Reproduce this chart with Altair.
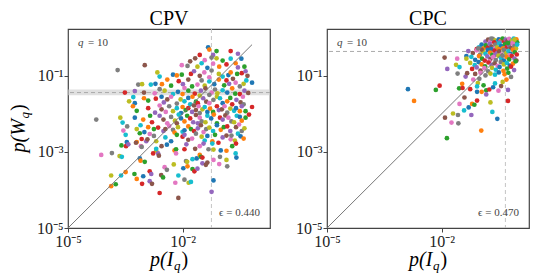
import altair as alt
import pandas as pd

TAB10 = ["#1f77b4", "#ff7f0e", "#2ca02c", "#d62728", "#9467bd",
         "#8c564b", "#e377c2", "#7f7f7f", "#bcbd22", "#17becf"]

# (log10 p(I_q), log10 p(W_q))
CPV_POINTS = [
    (-1.33, -0.25), (-1.30, -0.31), (-1.11, -0.35), (-0.74, -0.35), (-1.20, -0.45), (-1.67, -0.54), (-1.42, -0.59),
    (-1.24, -0.52), (-1.11, -0.54), (-0.74, -0.55), (-0.46, -0.55), (-0.61, -0.67), (-0.95, -0.60), (-1.55, -0.45),
    (-0.55, -0.42),
    (-2.99, -0.72), (-2.02, -0.72), (-1.87, -0.74), (-1.61, -0.76), (-1.50, -0.67), (-1.35, -0.79), (-1.04, -0.76),
    (-0.38, -0.76), (-0.85, -0.70), (-0.55, -0.78), (-1.80, -0.62), (-1.20, -0.68),
    (-3.70, -0.85), (-2.66, -0.91), (-2.60, -1.02), (-2.25, -0.97), (-2.15, -0.99), (-2.02, -0.97), (-1.78, -0.95),
    (-1.70, -0.88), (-1.55, -1.00), (-1.43, -0.91), (-1.24, -0.86), (-1.05, -0.95), (-0.95, -1.02), (-0.80, -0.98),
    (-0.74, -0.91), (-0.57, -0.95), (-0.45, -0.93), (-0.35, -0.88), (-0.30, -1.00), (-1.30, -1.04),
    (-3.16, -1.23), (-3.06, -1.22), (-2.83, -1.23), (-2.71, -1.21), (-2.54, -1.22), (-2.30, -1.26), (-2.10, -1.14),
    (-1.99, -1.22), (-1.85, -1.10), (-1.61, -1.23), (-1.50, -1.12), (-1.42, -1.26), (-1.30, -1.15), (-1.17, -1.22),
    (-1.05, -1.10), (-0.91, -1.25), (-0.85, -1.12), (-0.78, -1.21), (-0.68, -1.08), (-0.61, -1.18), (-0.50, -1.28),
    (-0.40, -1.21), (-0.33, -1.12), (-0.18, -1.18), (-2.40, -1.10), (-1.75, -1.28),
    (-3.51, -1.44), (-3.25, -1.40), (-3.01, -1.44), (-2.73, -1.46), (-2.60, -1.35), (-2.47, -1.39), (-2.25, -1.48),
    (-2.12, -1.42), (-2.00, -1.48), (-1.85, -1.39), (-1.68, -1.47), (-1.52, -1.39), (-1.40, -1.33), (-1.24, -1.44),
    (-1.15, -1.36), (-1.09, -1.46), (-0.95, -1.38), (-0.83, -1.44), (-0.70, -1.33), (-0.62, -1.47), (-0.50, -1.48),
    (-0.38, -1.39), (-0.28, -1.45), (-1.95, -1.32), (-1.30, -1.50),
    (-3.40, -1.67), (-3.29, -1.56), (-3.25, -1.72), (-3.01, -1.59), (-2.90, -1.65), (-2.70, -1.60), (-2.49, -1.70),
    (-2.40, -1.62), (-2.30, -1.55), (-2.15, -1.73), (-2.05, -1.62), (-1.95, -1.67), (-1.85, -1.58), (-1.74, -1.55),
    (-1.65, -1.68), (-1.60, -1.72), (-1.46, -1.59), (-1.38, -1.68), (-1.30, -1.72), (-1.19, -1.63), (-1.10, -1.55),
    (-1.02, -1.59), (-0.95, -1.72), (-0.83, -1.67), (-0.75, -1.58), (-0.70, -1.75), (-0.59, -1.63), (-0.48, -1.70),
    (-0.42, -1.55), (-0.40, -1.75), (-1.55, -1.52), (-1.80, -1.75), (-2.55, -1.55),
    (-3.30, -1.80), (-3.20, -1.92), (-2.90, -1.85), (-2.72, -1.97), (-2.55, -1.88), (-2.44, -1.95), (-2.35, -1.80),
    (-2.25, -1.93), (-2.15, -1.85), (-2.04, -1.98), (-2.00, -1.82), (-1.92, -1.90), (-1.85, -1.85), (-1.75, -1.95),
    (-1.65, -1.90), (-1.58, -1.80), (-1.55, -1.98), (-1.48, -1.88), (-1.42, -1.82), (-1.35, -1.95), (-1.28, -1.86),
    (-1.20, -1.95), (-1.10, -1.80), (-1.05, -1.90), (-0.97, -1.88), (-0.90, -1.80), (-0.83, -1.97), (-0.75, -1.86),
    (-0.65, -1.92), (-0.60, -1.85), (-0.50, -1.93), (-0.35, -1.93), (-0.18, -1.82), (-0.45, -1.80), (-1.70, -1.78),
    (-2.60, -1.78),
    (-4.26, -2.15), (-3.63, -2.10), (-3.57, -2.23), (-3.25, -2.10), (-3.03, -2.15), (-2.85, -2.05), (-2.80, -2.22),
    (-2.60, -2.05), (-2.50, -2.15), (-2.40, -2.25), (-2.30, -2.08), (-2.20, -2.18), (-2.10, -2.02), (-2.04, -2.12),
    (-1.95, -2.20), (-1.88, -2.05), (-1.80, -2.12), (-1.72, -2.22), (-1.65, -2.03), (-1.55, -2.10), (-1.50, -2.20),
    (-1.40, -2.22), (-1.35, -2.05), (-1.25, -2.12), (-1.18, -2.02), (-1.10, -2.25), (-1.02, -2.10), (-0.95, -2.15),
    (-0.88, -2.04), (-0.80, -2.10), (-0.72, -2.20), (-0.65, -2.22), (-0.58, -2.05), (-0.50, -2.08), (-0.45, -2.18),
    (-0.35, -2.10), (-0.26, -2.02), (-1.60, -2.25), (-2.15, -2.25),
    (-3.55, -2.44), (-3.45, -2.33), (-3.20, -2.40), (-3.10, -2.30), (-3.00, -2.48), (-2.90, -2.35), (-2.75, -2.40),
    (-2.64, -2.36), (-2.50, -2.45), (-2.45, -2.40), (-2.35, -2.32), (-2.25, -2.42), (-2.12, -2.35), (-2.00, -2.47),
    (-1.95, -2.43), (-1.85, -2.33), (-1.78, -2.40), (-1.70, -2.45), (-1.60, -2.38), (-1.52, -2.30), (-1.45, -2.48),
    (-1.38, -2.40), (-1.30, -2.36), (-1.20, -2.45), (-1.10, -2.30), (-1.00, -2.42), (-0.92, -2.35), (-0.83, -2.33),
    (-0.75, -2.45), (-0.60, -2.35), (-0.52, -2.28), (-0.45, -2.45), (-0.38, -2.38),
    (-3.49, -2.55), (-3.46, -2.74), (-3.20, -2.74), (-3.12, -2.51), (-3.07, -2.66), (-2.95, -2.72), (-2.92, -2.67),
    (-2.86, -2.53), (-2.75, -2.58), (-2.69, -2.72), (-2.45, -2.62), (-2.30, -2.72), (-2.21, -2.49), (-2.15, -2.55),
    (-2.00, -2.60), (-1.95, -2.55), (-1.85, -2.68), (-1.75, -2.65), (-1.65, -2.52), (-1.50, -2.60), (-1.42, -2.70),
    (-1.35, -2.58), (-1.22, -2.72), (-1.15, -2.55), (-1.06, -2.76), (-0.95, -2.62), (-0.85, -2.57), (-0.74, -2.67),
    (-0.72, -2.57), (-0.63, -2.70), (-0.55, -2.52), (-0.48, -2.59), (-0.40, -2.65),
    (-3.60, -2.83), (-3.48, -2.85), (-3.42, -2.80), (-3.22, -2.76), (-3.09, -2.85), (-3.07, -2.87), (-2.69, -2.97),
    (-2.69, -2.92), (-2.41, -2.81), (-2.21, -2.96), (-2.17, -2.93), (-1.95, -2.93), (-1.90, -2.80), (-1.67, -2.92),
    (-1.55, -2.85), (-1.32, -2.93), (-1.19, -2.94), (-1.22, -2.78), (-1.00, -2.96), (-0.85, -2.97), (-0.70, -2.85),
    (-0.60, -2.78), (-1.45, -2.78), (-2.55, -2.85),
    (-4.13, -3.08), (-3.85, -3.03), (-3.65, -3.11), (-3.59, -3.13), (-3.12, -3.17), (-3.10, -3.23), (-2.99, -3.26),
    (-2.77, -3.04), (-2.64, -3.04), (-2.62, -3.10), (-2.17, -3.04), (-1.91, -3.24), (-1.88, -3.26), (-1.74, -3.19),
    (-1.63, -3.17), (-1.55, -3.08), (-1.52, -3.13), (-1.48, -3.15), (-1.48, -3.30), (-1.35, -3.28), (-1.19, -3.21),
    (-1.02, -3.13), (-0.85, -3.21), (-0.61, -3.04), (-0.59, -3.15),
    (-3.49, -3.53), (-3.26, -3.58), (-2.86, -3.51), (-2.82, -3.58), (-2.56, -3.61), (-2.47, -3.40), (-2.41, -3.47),
    (-2.23, -3.33), (-2.11, -3.62), (-1.98, -3.43), (-1.87, -3.38), (-1.74, -3.45), (-1.69, -3.51), (-1.61, -3.44),
    (-1.39, -3.34), (-1.04, -3.32), (-0.83, -3.38),
    (-3.87, -3.62), (-3.61, -3.62), (-3.03, -3.64), (-3.20, -3.71), (-2.51, -3.67), (-3.06, -3.84), (-2.86, -3.77),
    (-2.80, -3.84), (-2.19, -3.81), (-1.95, -3.73), (-1.84, -3.81), (-1.78, -3.79), (-1.19, -3.75), (-3.87, -3.90),
    (-3.75, -3.85), (-2.60, -4.08), (-1.24, -4.05), (-2.11, -4.21),
]

CPC_POINTS = [
    (-2.88, -1.35), (-2.72, -1.66), (-2.15, -1.37), (-2.05, -1.26), (-1.85, -0.82), (-1.92, -0.52), (-1.59, -0.55),
    (-1.58, -0.94), (-1.62, -0.71), (-1.53, -0.77), (-1.35, -0.48), (-1.46, -1.21), (-1.54, -1.33), (-1.45, -1.32),
    (-1.37, -1.02), (-1.33, -0.93), (-1.17, -1.10), (-1.01, -1.08), (-1.05, -1.19), (-1.07, -1.28), (-1.07, -1.42),
    (-0.95, -1.42), (-0.83, -1.38), (-0.75, -1.36), (-0.83, -1.49), (-1.40, -1.57), (-1.53, -1.74), (-1.57, -2.03),
    (-1.70, -1.99), (-1.41, -1.91), (-1.29, -1.83), (-1.20, -1.74), (-1.14, -1.76), (-1.07, -1.65), (-1.22, -2.03),
    (-1.91, -2.10), (-1.74, -2.23), (-1.56, -2.25), (-0.72, -1.70), (-0.67, -1.95), (-0.54, -2.13), (-0.96, -2.44),
    (-1.86, -2.64), (-0.26, -1.66), (-0.26, -1.37), (-0.44, -1.27), (-0.51, -1.39), (-0.18, -1.03), (-0.40, -1.16),
    (-0.60, -1.20), (-0.65, -1.30), (-0.30, -1.10), (-0.90, -1.25), (-1.25, -1.35),
    (-0.85, -0.10), (-0.78, -0.05), (-0.72, -0.09), (-0.66, -0.03), (-0.60, -0.07), (-0.55, -0.11), (-0.50, -0.04),
    (-0.45, -0.08), (-0.40, -0.02), (-0.36, -0.10), (-0.32, -0.05), (-0.27, -0.08), (-0.23, -0.03), (-0.19, -0.11),
    (-0.15, -0.06), (-0.11, -0.02), (-0.07, -0.09), (-0.04, -0.04), (-0.02, -0.12), (-0.62, -0.12), (-0.48, -0.12),
    (-0.30, -0.13), (-0.13, -0.13), (-0.70, -0.02), (-0.09, -0.05),
    (-1.02, -0.25), (-0.95, -0.18), (-0.90, -0.28), (-0.84, -0.20), (-0.79, -0.26), (-0.74, -0.16), (-0.69, -0.23),
    (-0.64, -0.29), (-0.59, -0.18), (-0.54, -0.25), (-0.49, -0.15), (-0.44, -0.22), (-0.39, -0.28), (-0.34, -0.17),
    (-0.29, -0.24), (-0.24, -0.19), (-0.19, -0.27), (-0.14, -0.16), (-0.09, -0.22), (-0.05, -0.28), (-0.02, -0.18),
    (-0.70, -0.30), (-0.50, -0.30), (-0.26, -0.14), (-1.08, -0.30),
    (-1.30, -0.35), (-1.18, -0.40), (-1.08, -0.33), (-0.99, -0.44), (-0.92, -0.36), (-0.85, -0.42), (-0.79, -0.32),
    (-0.73, -0.39), (-0.67, -0.45), (-0.61, -0.34), (-0.55, -0.41), (-0.49, -0.36), (-0.43, -0.44), (-0.37, -0.32),
    (-0.31, -0.40), (-0.25, -0.35), (-0.19, -0.43), (-0.13, -0.31), (-0.08, -0.38), (-0.03, -0.44), (-0.60, -0.45),
    (-0.95, -0.31), (-0.22, -0.46), (-1.04, -0.28),
    (-1.35, -0.55), (-1.22, -0.50), (-1.12, -0.58), (-1.02, -0.48), (-0.94, -0.55), (-0.87, -0.60), (-0.80, -0.49),
    (-0.72, -0.56), (-0.65, -0.51), (-0.58, -0.59), (-0.51, -0.47), (-0.44, -0.54), (-0.37, -0.60), (-0.30, -0.50),
    (-0.23, -0.57), (-0.16, -0.48), (-0.09, -0.55), (-0.04, -0.60), (-0.75, -0.62), (-0.40, -0.47),
    (-1.25, -0.66), (-1.13, -0.72), (-1.03, -0.64), (-0.95, -0.70), (-0.86, -0.75), (-0.77, -0.65), (-0.69, -0.71),
    (-0.61, -0.67), (-0.53, -0.74), (-0.45, -0.64), (-0.37, -0.70), (-0.29, -0.66), (-0.21, -0.73), (-0.13, -0.68),
    (-0.06, -0.62),
    (-1.20, -0.82), (-1.08, -0.78), (-0.98, -0.86), (-0.88, -0.80), (-0.78, -0.88), (-0.68, -0.79), (-0.58, -0.84),
    (-0.48, -0.77), (-0.38, -0.87), (-0.28, -0.81), (-0.18, -0.76), (-0.10, -0.85),
    (-1.12, -0.95), (-0.98, -0.92), (-0.85, -0.99), (-0.72, -0.94), (-0.60, -0.97), (-0.50, -0.91), (-0.35, -0.96),
    (-0.25, -0.92),
]

PANELS = ["CPV", "CPC"]
EPS_LABELS = ["ϵ = 0.440", "ϵ = 0.470"]
EPS_LINE_X = [0.057, 0.47]       # vertical dashed line positions
MEAN_LINE_Y = [0.0363, 0.437]    # horizontal dashed line positions
BAND_LEFT = [0.031, 0.0437]      # grey band around the CPV horizontal line
Q_LABEL = "= 10"
X_TICKS = [1e-5, 1e-2]
Y_TICKS = [1e-5, 1e-3, 1e-1]
X_MAX, Y_MAX = 1.95, 1.7
DIAG = [1e-5, 0.66]

W, H = 202, 199
SERIF = "Liberation Serif"
LABEL_EXPR = "'10⁻' + ['⁰','¹','²','³','⁴','⁵'][-round(log(datum.value)/LN10)]"

xs = alt.Scale(type="log", domain=[1e-5, X_MAX], nice=False)
ys = alt.Scale(type="log", domain=[1e-5, Y_MAX], nice=False)
axis_common = dict(title=None, grid=False, domain=False, tickSize=4, tickColor="#444", tickWidth=1,
                   labelFont=SERIF, labelFontSize=16, labelColor="#222", labelPadding=1, labelFlush=False)
xax = alt.Axis(values=X_TICKS, labelExpr=LABEL_EXPR, **axis_common)
yax = alt.Axis(values=Y_TICKS, labelExpr=LABEL_EXPR, **axis_common)


def X(f):
    return alt.X(f, type="quantitative", scale=xs, axis=xax)


def Y(f):
    return alt.Y(f, type="quantitative", scale=ys, axis=yax)


ONE = pd.DataFrame({"a": [0]})


def txt(s, x, y, size, italic=False, angle=0, align="left", color="black"):
    kw = dict(text=s, font=SERIF, fontSize=size, fontStyle="italic" if italic else "normal",
              align=align, baseline="alphabetic", color=color)
    if angle:
        kw["angle"] = angle
    return alt.Chart(ONE).mark_text(**kw).encode(x=alt.value(x), y=alt.value(y))


def panel(i, pts_list, ylabel):
    df = pd.DataFrame({
        "x": [10 ** p[0] for p in pts_list],
        "y": [10 ** p[1] for p in pts_list],
        "c": [k % 10 for k in range(len(pts_list))],
    })
    layers = []
    if i == 0:
        band = pd.DataFrame({"y1": [BAND_LEFT[0]], "y2": [BAND_LEFT[1]]})
        layers.append(alt.Chart(band).mark_rect(color="#cccccc", opacity=0.6).encode(
            y=Y("y1"), y2="y2", x=alt.value(0), x2=alt.value(W)))
    layers.append(alt.Chart(pd.DataFrame({"x": [EPS_LINE_X[i]]})).mark_rule(
        color="#c4c4c4", strokeDash=[4, 3], strokeWidth=1).encode(x=X("x")))
    layers.append(alt.Chart(pd.DataFrame({"y": [MEAN_LINE_Y[i]]})).mark_rule(
        color="#aaaaaa", strokeDash=[4, 3], strokeWidth=1).encode(y=Y("y")))
    layers.append(alt.Chart(df).mark_circle(size=22, opacity=1).encode(
        x=X("x"), y=Y("y"),
        color=alt.Color("c:N", scale=alt.Scale(domain=list(range(10)), range=TAB10), legend=None)))
    layers.append(alt.Chart(pd.DataFrame({"x": DIAG, "y": DIAG})).mark_line(
        color="#777777", strokeWidth=1).encode(x=X("x"), y=Y("y")))
    # annotations
    layers.append(txt("q", 10, 17, 11, italic=True, color="#444"))
    layers.append(txt(Q_LABEL, 20, 17, 11, color="#444"))
    layers.append(txt(EPS_LABELS[i], W - 10, H - 12, 11, align="right", color="#444"))
    # title
    layers.append(txt(PANELS[i], W / 2, -4, 20, align="center"))
    # x axis title p(I_q)
    x0, yb = W / 2 - 19, H + 38
    layers += [txt("p(I", x0, yb, 20, italic=True),
               txt("q", x0 + 24, yb + 4, 13, italic=True),
               txt(")", x0 + 31.5, yb, 20)]
    if ylabel:
        xb, y0 = -43, H / 2 + 24
        layers += [txt("p(W", xb, y0, 20, italic=True, angle=270),
                   txt("q", xb + 4, y0 - 34, 13, italic=True, angle=270),
                   txt(")", xb, y0 - 41.5, 20, angle=270)]
    return alt.layer(*layers).properties(width=W, height=H)


chart = alt.hconcat(panel(0, CPV_POINTS, True), panel(1, CPC_POINTS, False), spacing=22).properties(
    padding={"left": 0, "right": 0, "top": 0, "bottom": 0}
).configure_view(stroke="#444444", strokeWidth=1.2)

chart.save("out.html", embed_options={"renderer": "svg", "actions": False})
